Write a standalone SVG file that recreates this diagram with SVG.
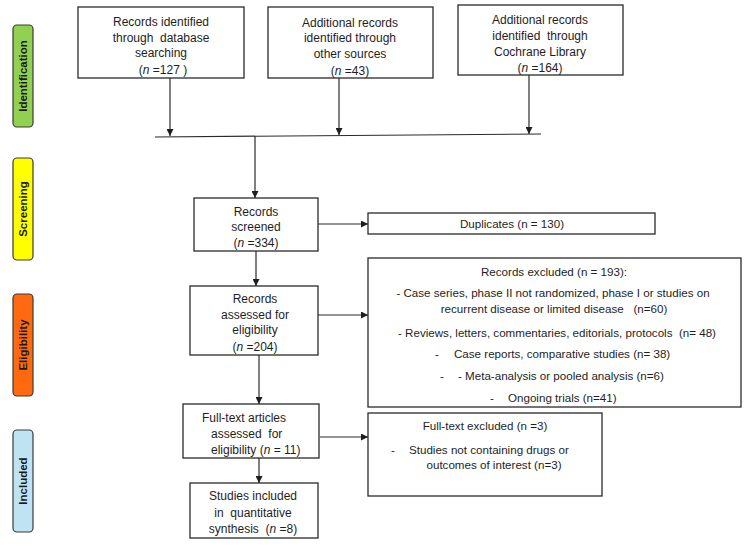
<svg xmlns="http://www.w3.org/2000/svg" width="747" height="555" viewBox="0 0 747 555">
<style>
  .box { fill: #ffffff; stroke: #2a2a2a; stroke-width: 1.3; }
  .t { font-family: "Liberation Sans", Arial, sans-serif; font-size: 12px; fill: #1e1e1e; }
  .r { font-family: "Liberation Sans", Arial, sans-serif; font-size: 11.6px; fill: #1e1e1e; }
  .c { text-anchor: middle; }
  .i { font-style: italic; }
  .lab { stroke: #3a3a3a; stroke-width: 1.2; }
  .lt { font-family: "Liberation Sans", Arial, sans-serif; font-size: 11.5px; font-weight: bold; fill: #1a1a1a; text-anchor: middle; dominant-baseline: central; }
  .ln { stroke: #2a2a2a; stroke-width: 1.2; fill: none; }
</style>
<defs>
  <marker id="ah" viewBox="0 0 10 10" refX="10" refY="5" markerWidth="7" markerHeight="7" markerUnits="userSpaceOnUse" orient="auto">
    <path d="M0,0 L10,5 L0,10 z" fill="#1e1e1e"/>
  </marker>
</defs>
<rect width="747" height="555" fill="#ffffff"/>

<g id="label-identification">
  <rect class="lab" x="13" y="25" width="20" height="102" rx="4" fill="#92d050"/>
  <text class="lt" transform="translate(23,76) rotate(-90)">Identification</text>
</g>
<g id="label-screening">
  <rect class="lab" x="13" y="158" width="20" height="102" rx="4" fill="#ffff00"/>
  <text class="lt" transform="translate(23,209) rotate(-90)">Screening</text>
</g>
<g id="label-eligibility">
  <rect class="lab" x="13" y="294" width="20" height="102" rx="4" fill="#ff6a10"/>
  <text class="lt" transform="translate(23,345) rotate(-90)">Eligibility</text>
</g>
<g id="label-included">
  <rect class="lab" x="13" y="430" width="20" height="102" rx="4" fill="#bfe3f3"/>
  <text class="lt" transform="translate(23,481) rotate(-90)">Included</text>
</g>

<g id="connectors">
  <line class="ln" x1="155" y1="137" x2="541" y2="134"/>
  <line class="ln" x1="170" y1="78" x2="170" y2="136" marker-end="url(#ah)"/>
  <line class="ln" x1="339" y1="78" x2="339" y2="135" marker-end="url(#ah)"/>
  <line class="ln" x1="529" y1="75" x2="529" y2="134" marker-end="url(#ah)"/>
  <line class="ln" x1="255" y1="136" x2="255" y2="198" marker-end="url(#ah)"/>
  <line class="ln" x1="318" y1="224" x2="368" y2="224" marker-end="url(#ah)"/>
  <line class="ln" x1="256" y1="251" x2="256" y2="286" marker-end="url(#ah)"/>
  <line class="ln" x1="318" y1="315" x2="368" y2="315" marker-end="url(#ah)"/>
  <line class="ln" x1="259" y1="355" x2="259" y2="404" marker-end="url(#ah)"/>
  <line class="ln" x1="320" y1="437" x2="368" y2="437" marker-end="url(#ah)"/>
  <line class="ln" x1="259" y1="458" x2="259" y2="483" marker-end="url(#ah)"/>
</g>

<g id="records-database">
  <rect class="box" x="78" y="7" width="166" height="71"/>
  <text class="t c" x="161" y="26">Records identified</text>
  <text class="t c" x="161" y="42" xml:space="preserve">through  database</text>
  <text class="t c" x="161" y="57">searching</text>
  <text class="t c" x="163" y="74">(<tspan class="i">n</tspan> =127 )</text>
</g>

<g id="records-other">
  <rect class="box" x="268" y="7" width="165" height="71"/>
  <text class="t c" x="350" y="27">Additional records</text>
  <text class="t c" x="350" y="42">identified through</text>
  <text class="t c" x="350" y="58">other sources</text>
  <text class="t c" x="350" y="75">(<tspan class="i">n</tspan> =43)</text>
</g>

<g id="records-cochrane">
  <rect class="box" x="458" y="5" width="165" height="70"/>
  <text class="t c" x="540" y="24">Additional records</text>
  <text class="t c" x="540" y="40" xml:space="preserve">identified  through</text>
  <text class="t c" x="540" y="56">Cochrane Library</text>
  <text class="t c" x="540" y="72">(<tspan class="i">n</tspan> =164)</text>
</g>

<g id="records-screened">
  <rect class="box" x="194" y="198" width="124" height="53"/>
  <text class="t c" x="256" y="216">Records</text>
  <text class="t c" x="256" y="231">screened</text>
  <text class="t c" x="256" y="247">(<tspan class="i">n</tspan> =334)</text>
</g>

<g id="duplicates">
  <rect class="box" x="368" y="213" width="287" height="21"/>
  <text class="r c" x="512" y="228">Duplicates (n = 130)</text>
</g>

<g id="records-assessed">
  <rect class="box" x="190" y="286" width="128" height="69"/>
  <text class="t c" x="255" y="303">Records</text>
  <text class="t c" x="255" y="319">assessed for</text>
  <text class="t c" x="255" y="334">eligibility</text>
  <text class="t c" x="255" y="351">(<tspan class="i">n</tspan> =204)</text>
</g>

<g id="records-excluded">
  <rect class="box" x="368" y="258" width="373" height="149"/>
  <text class="r c" x="554" y="276">Records excluded (n = 193):</text>
  <text class="r c" x="553" y="297">- Case series, phase II not randomized, phase I or studies on</text>
  <text class="r c" x="554" y="313" xml:space="preserve">recurrent disease or limited disease   (n=60)</text>
  <text class="r c" x="557" y="337" xml:space="preserve">- Reviews, letters, commentaries, editorials, protocols  (n= 48)</text>
  <text class="r c" x="437" y="358">-</text>
  <text class="r" x="454" y="358">Case reports, comparative studies (n= 38)</text>
  <text class="r c" x="442" y="380">-</text>
  <text class="r" x="458" y="380">- Meta-analysis or pooled analysis (n=6)</text>
  <text class="r c" x="492" y="402">-</text>
  <text class="r" x="508" y="402">Ongoing trials (n=41)</text>
</g>

<g id="fulltext-assessed">
  <rect class="box" x="183" y="404" width="136" height="54"/>
  <text class="t" x="202" y="422">Full-text articles</text>
  <text class="t" x="211" y="438" xml:space="preserve">assessed  for</text>
  <text class="t" x="211" y="454">eligibility (<tspan class="i">n</tspan> = 11)</text>
</g>

<g id="fulltext-excluded">
  <rect class="box" x="368" y="413" width="234" height="83"/>
  <text class="r c" x="485" y="430">Full-text excluded (n =3)</text>
  <text class="r c" x="393" y="454">-</text>
  <text class="r" x="409" y="454">Studies not containing drugs or</text>
  <text class="r c" x="494" y="469">outcomes of interest (n=3)</text>
</g>

<g id="studies-included">
  <rect class="box" x="190" y="483" width="128" height="55"/>
  <text class="t c" x="253" y="500">Studies included</text>
  <text class="t c" x="253" y="517" xml:space="preserve">in  quantitative</text>
  <text class="t c" x="253" y="533" xml:space="preserve">synthesis  (<tspan class="i">n</tspan> =8)</text>
</g>
</svg>
